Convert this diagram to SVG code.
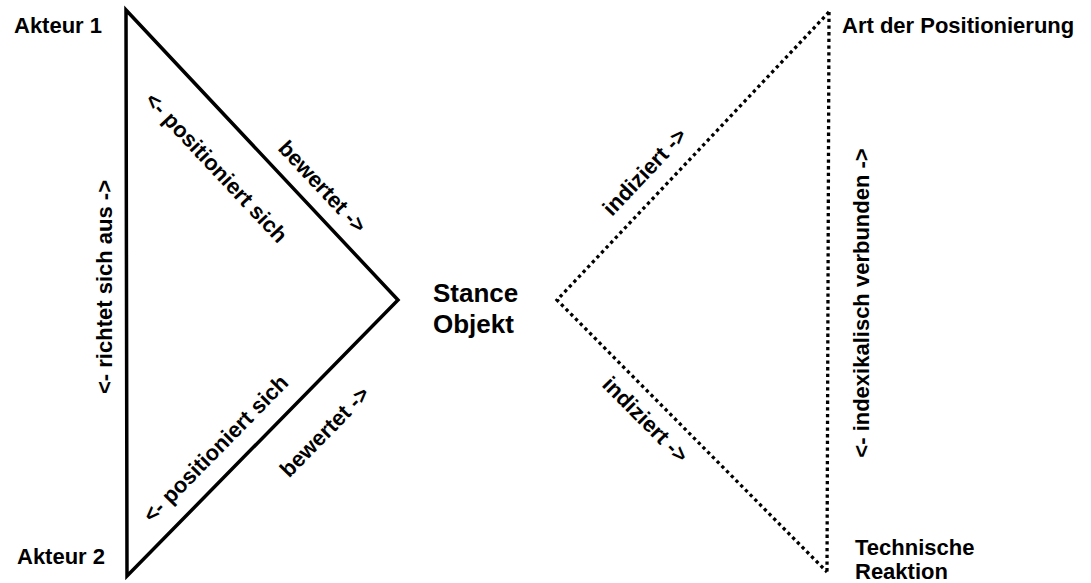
<svg xmlns="http://www.w3.org/2000/svg" width="1091" height="583" viewBox="0 0 1091 583">
<style>
text{font-family:"Liberation Sans",Arial,Helvetica,sans-serif;font-weight:bold;font-size:22px;fill:#000}
.big{font-size:26px}
.solid{fill:none;stroke:#000;stroke-width:3.5;stroke-linejoin:miter}
.dot{fill:none;stroke:#000;stroke-width:3.3;stroke-dasharray:3.3 3.4}
</style>
<rect width="1091" height="583" fill="#fff"/>
<g id="connectors">
<polygon class="solid" points="126,10 398,300 127,576"/>
<polyline class="dot" points="829,12 557,300 827,572"/>
<line class="dot" x1="829" y1="12" x2="827" y2="572"/>
</g>
<g id="akteur1"><text x="14" y="33">Akteur 1</text></g>
<g id="akteur2"><text x="17" y="564">Akteur 2</text></g>
<g id="stance"><text class="big" x="433" y="302">Stance</text><text class="big" x="433" y="333">Objekt</text></g>
<g id="art"><text x="842" y="33">Art der Positionierung</text></g>
<g id="technische"><text x="855" y="555">Technische</text><text x="855" y="579">Reaktion</text></g>
<g id="labels">
<text transform="translate(104,287) rotate(-90)" x="0" y="8" text-anchor="middle">&lt;- richtet sich aus -&gt;</text>
<text transform="translate(216,168) rotate(46.8)" x="0" y="7" text-anchor="middle">&lt;- positioniert sich</text>
<text transform="translate(322,187) rotate(46.8)" x="0" y="7" text-anchor="middle">bewertet -&gt;</text>
<text transform="translate(216,449) rotate(-45.5)" x="0" y="7" text-anchor="middle">&lt;- positioniert sich</text>
<text transform="translate(325,432) rotate(-45.5)" x="0" y="7" text-anchor="middle">bewertet -&gt;</text>
<text transform="translate(645,172) rotate(-46.6)" x="0" y="7" text-anchor="middle">indiziert -&gt;</text>
<text transform="translate(645,420) rotate(45.2)" x="0" y="7" text-anchor="middle">indiziert -&gt;</text>
<text transform="translate(861,303) rotate(-90)" x="0" y="8" text-anchor="middle">&lt;- indexikalisch verbunden -&gt;</text>
</g>
</svg>
